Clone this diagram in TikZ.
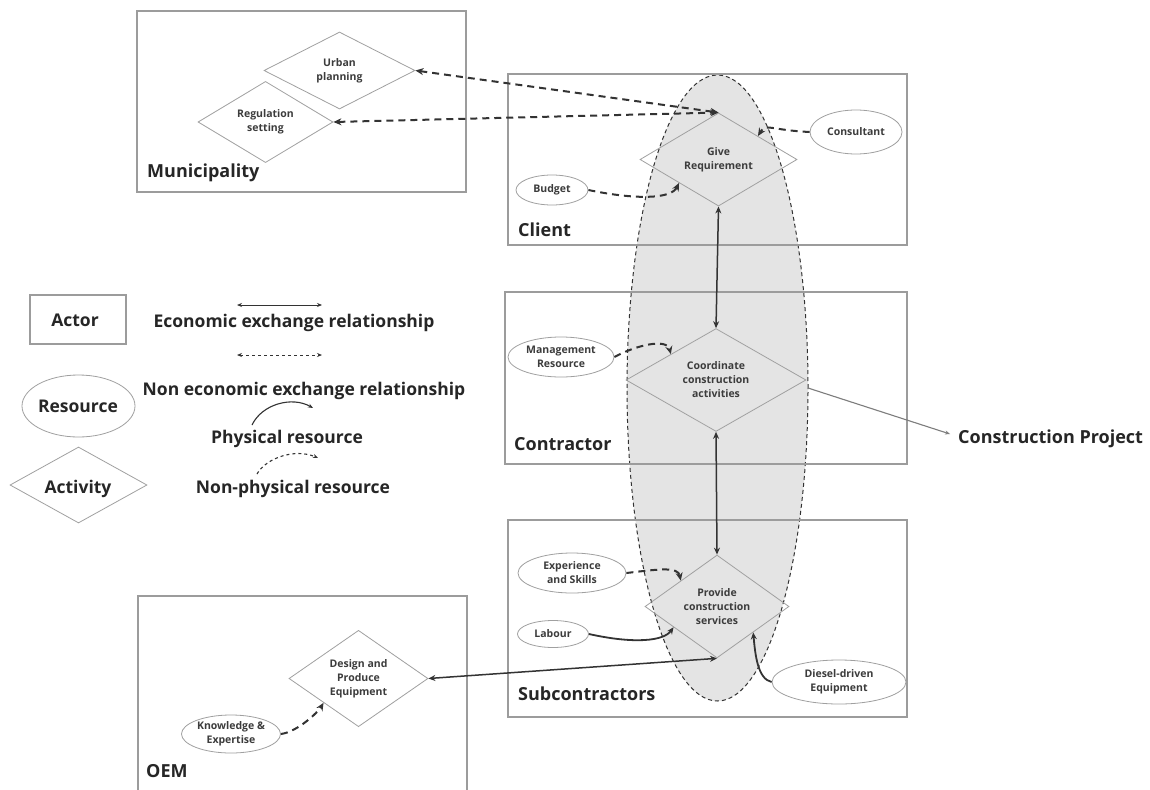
\documentclass[tikz,border=0pt]{standalone}
\usepackage{fontspec}
\setmainfont{Open Sans}
\usetikzlibrary{shapes.geometric,arrows.meta,calc}
\definecolor{boxgray}{HTML}{9C9C9C}
\definecolor{dmgray}{HTML}{A0A0A0}
\definecolor{projfill}{HTML}{E4E4E4}
\definecolor{conn}{HTML}{333333}
\definecolor{txtmain}{HTML}{262626}
\definecolor{txtsmall}{HTML}{3C3C3C}
\begin{document}
\begin{tikzpicture}[x=1pt,y=-1pt,
  actorbox/.style={draw=boxgray,line width=1.2pt,inner sep=0pt},
  activ/.style={diamond,draw=dmgray,line width=0.8pt,inner sep=0pt,align=center,
    text=txtsmall,font=\fontsize{10.5}{14}\selectfont\bfseries},
  resrc/.style={ellipse,draw=dmgray,line width=0.8pt,fill=white,inner sep=0pt,align=center,
    text=txtsmall,font=\fontsize{10.5}{14}\selectfont\bfseries},
  biglabel/.style={anchor=base west,inner sep=0pt,text=txtmain,font=\fontsize{18}{22}\selectfont\bfseries},
  leglabel/.style={anchor=base,inner sep=0pt,text=txtmain,font=\fontsize{17.5}{21}\selectfont\bfseries},
  econ/.style={conn,line width=1.5pt,{Stealth[length=7pt,width=6pt]}-{Stealth[length=7pt,width=6pt]}},
  noneco/.style={conn,line width=2pt,dash pattern=on 7pt off 5pt,{Stealth[length=8pt,width=7pt]}-{Stealth[length=8pt,width=7pt]}},
  physres/.style={conn,line width=1.8pt,-{Stealth[length=7pt,width=6pt]}},
  nonphys/.style={conn,line width=2pt,dash pattern=on 7pt off 5pt,-{Stealth[length=8pt,width=7pt]}},
  legline/.style={conn,line width=0.9pt},
]
\useasboundingbox (0,0) rectangle (1150,789);
\fill[white] (0,0) rectangle (1150,789);

% central shaded ellipse
\node[ellipse,draw=conn,line width=1pt,dash pattern=on 4pt off 3pt,fill=projfill,
  minimum width=181pt,minimum height=626pt,inner sep=0pt] (proj) at (717.5,388) {};

% actor boxes
\node[actorbox,minimum width=329pt,minimum height=181pt] (muni) at (301.5,101.5) {};
\node[actorbox,minimum width=399pt,minimum height=171pt] (client) at (707.5,159.5) {};
\node[actorbox,minimum width=402pt,minimum height=172pt] (contr) at (706,378) {};
\node[actorbox,minimum width=399pt,minimum height=197pt] (subc) at (707.5,618.5) {};
\draw[boxgray,line width=1.2pt] (138,800) -- (138,596) -- (467,596) -- (467,800);

% actor labels
\node[biglabel] (lmuni) at (147,177) {Municipality};
\node[biglabel] (lclient) at (518,236) {Client};
\node[biglabel] (lcontr) at (514,450) {Contractor};
\node[biglabel] (lsubc) at (518,700) {Subcontractors};
\node[biglabel] (loem) at (146,777) {OEM};
\node[biglabel] (cproj) at (958,443) {Construction Project};

% activities
\node[activ,minimum width=151pt,minimum height=77pt] (urban) at (339.5,70.5) {Urban\\planning};
\node[activ,minimum width=135pt,minimum height=64pt] (reg) at (265.5,122) {Regulation\\setting};
\node[activ,minimum width=157pt,minimum height=63pt] (give) at (718.5,159.5) {Give\\Requirement};
\node[activ,minimum width=180pt,minimum height=90pt] (coord) at (716,380) {Coordinate\\construction\\activities};
\node[activ,minimum width=144pt,minimum height=82pt] (prov) at (717,606.5) {Provide\\construction\\services};
\node[activ,minimum width=139pt,minimum height=95pt] (design) at (358.5,678.5) {Design and\\Produce\\Equipment};

% resources
\node[resrc,minimum width=92pt,minimum height=44pt] (cons) at (856,132) {Consultant};
\node[resrc,minimum width=72pt,minimum height=30pt] (budget) at (552,190) {Budget};
\node[resrc,minimum width=106pt,minimum height=40pt] (mgmt) at (561,357) {Management\\Resource};
\node[resrc,minimum width=108pt,minimum height=40pt] (exp) at (572,573) {Experience\\and Skills};
\node[resrc,minimum width=71pt,minimum height=27pt] (lab) at (553,634) {Labour};
\node[resrc,minimum width=134pt,minimum height=44pt] (dies) at (839,682) {Diesel-driven\\Equipment};
\node[resrc,minimum width=99pt,minimum height=38pt] (know) at (231,734) {Knowledge \&\\Expertise};

% connectors
\draw[noneco] (urban.east) -- (give.north);
\draw[noneco] (reg.east) -- (give.north);
\draw[nonphys] (cons.west) .. controls +(-40,-2) and +(8,-13) .. (give.north east);
\draw[nonphys] (budget.east) .. controls +(48,10) and +(-8,16) .. (give.south west);
\draw[econ] (give.south) -- (coord.north);
\draw[econ] (coord.south) -- (prov.north);
\draw[nonphys] (mgmt.east) .. controls +(22,-12) and +(-4,-16) .. (coord.north west);
\draw[nonphys] (exp.east) .. controls +(34,-4) and +(-3,-14) .. (prov.north west);
\draw[physres] (lab.east) .. controls +(45,10) and +(-10,14) .. ($(prov.west)!0.4!(prov.south)$);
\draw[physres] (dies.west) .. controls +(-14,-3) and +(2,22) .. ($(prov.east)!0.5!(prov.south)$);
\draw[econ] (design.east) -- (prov.south);
\draw[nonphys] (know.east) .. controls +(16,-2) and +(-6,10) .. (design.south west);
\coordinate (cpstart) at (808,388);
\draw[boxgray!80!black,line width=1.1pt,-{Stealth[length=5pt,width=4pt]}] (cpstart) -- ($(cproj.base west)+(-8,-9)$);

% legend
\node[actorbox,minimum width=96pt,minimum height=49pt] (legactor) at (78,319.5) {};
\node[leglabel] (tactor) at (75,326) {Actor};
\node[ellipse,draw=dmgray,line width=0.8pt,inner sep=0pt,minimum width=113pt,minimum height=62pt] (legres) at (78.5,406) {};
\node[leglabel] (tres) at (78,412) {Resource};
\node[diamond,draw=dmgray,line width=0.8pt,inner sep=0pt,minimum width=137pt,minimum height=76pt] (legact) at (78.5,485) {};
\node[leglabel] (tact) at (78,493) {Activity};

\coordinate (e1) at (237,305);
\coordinate (e2) at (322,305);
\draw[legline,{Stealth[length=5pt,width=4pt]}-{Stealth[length=5pt,width=4pt]}] (e1) -- (e2);
\node[leglabel] (teco) at (294,327) {Economic exchange relationship};
\coordinate (n1) at (237,355);
\coordinate (n2) at (322,355);
\draw[legline,dash pattern=on 3pt off 3pt,{Stealth[length=5pt,width=4pt]}-{Stealth[length=5pt,width=4pt]}] (n1) -- (n2);
\node[leglabel] (tneco) at (304,395) {Non economic exchange relationship};
\coordinate (p1) at (252,425);
\coordinate (p2) at (313,408);
\draw[legline,line width=1.1pt,-{Stealth[length=5pt,width=4pt]}] (p1) .. controls (262,404) and (292,396) .. (p2);
\node[leglabel] (tphys) at (287,443) {Physical resource};
\coordinate (q1) at (257,474);
\coordinate (q2) at (318,458);
\draw[legline,line width=1.1pt,dash pattern=on 3pt off 3pt,-{Stealth[length=5pt,width=4pt]}] (q1) .. controls (266,458) and (295,448) .. (q2);
\node[leglabel] (tnphys) at (293,493) {Non-physical resource};
\end{tikzpicture}
\end{document}
